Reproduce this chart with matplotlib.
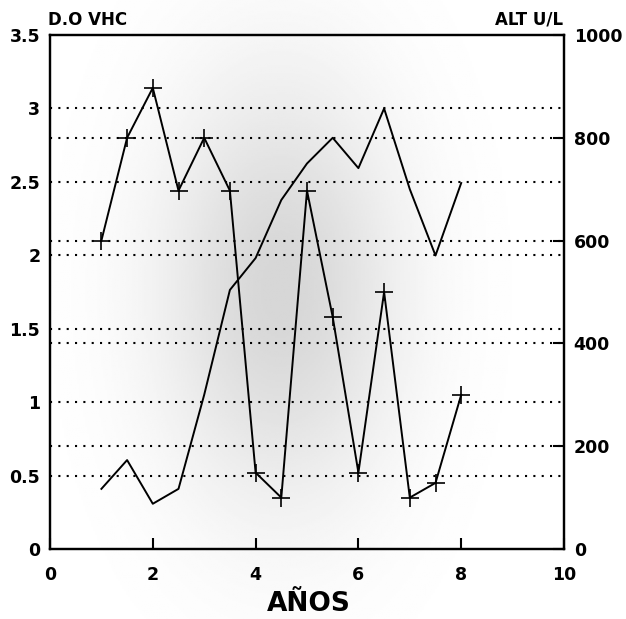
import numpy as np
import matplotlib.pyplot as plt

# D.O VHC (left axis) - line with + markers
anios = [1, 1.5, 2, 2.5, 3, 3.5, 4, 4.5, 5, 5.5, 6, 6.5, 7, 7.5, 8]
do_vhc = [2.1, 2.8, 3.14, 2.44, 2.8, 2.44, 0.52, 0.35, 2.44, 1.58, 0.52, 1.75, 0.35, 0.45, 1.05]

# ALT U/L (right axis) - plain line
alt_ul = [117, 173, 88, 117, 300, 504, 566, 679, 750, 800, 741, 857, 700, 571, 712]

left_ticks = [0, 0.5, 1, 1.5, 2, 2.5, 3, 3.5]
right_ticks = [0, 200, 400, 600, 800, 1000]
x_ticks = [0, 2, 4, 6, 8, 10]

fig = plt.figure(figsize=(6.26, 6.19), dpi=100)

# soft grey shading behind the plot (scanned-look background)
bg = fig.add_axes([0, 0, 1, 1], zorder=0)
gx, gy = np.meshgrid(np.linspace(0, 626, 320), np.linspace(0, 619, 320))
d = ((gx - 280) / 120) ** 2 + ((gy - 290) / 210) ** 2
shade = 1 - 0.16 * np.exp(-d)
bg.imshow(shade, cmap='gray', vmin=0, vmax=1, extent=[0, 626, 619, 0], aspect='auto')
bg.axis('off')

ax = fig.add_axes([50 / 626, 1 - 549 / 619, 514 / 626, 514 / 619], zorder=1)
ax.patch.set_alpha(0)
ax2 = ax.twinx()

ax.set_xlim(0, 10)
ax.set_ylim(0, 3.5)
ax2.set_ylim(0, 1000)

# dotted grid lines at both axes' ticks
for v in left_ticks[1:-1]:
    ax.axhline(v, color='black', linestyle=(0, (1, 3)), linewidth=1.5, zorder=1)
for v in right_ticks[1:-1]:
    ax2.axhline(v, color='black', linestyle=(0, (1, 3)), linewidth=1.5, zorder=1)

ax.plot(anios, do_vhc, color='black', linewidth=1.4, marker='+', markersize=13,
        markeredgewidth=1.2, zorder=3)
ax2.plot(anios, alt_ul, color='black', linewidth=1.4, zorder=3)

font = dict(fontsize=12.5, fontweight='bold')
ax.set_xticks(x_ticks)
ax.set_xticklabels([str(t) for t in x_ticks], **font)
ax.set_yticks(left_ticks)
ax.set_yticklabels(['0', '0.5', '1', '1.5', '2', '2.5', '3', '3.5'], **font)
ax2.set_yticks(right_ticks)
ax2.set_yticklabels([str(t) for t in right_ticks], **font)

ax.tick_params(axis='x', direction='in', length=8, width=1.5, pad=12)
ax.tick_params(axis='y', direction='in', length=0, pad=7)
ax2.tick_params(axis='y', direction='in', length=8, width=1.5, pad=7)

for a in (ax, ax2):
    for s in a.spines.values():
        s.set_linewidth(1.6)

fig.text(48 / 626, 1 - 25 / 619, 'D.O VHC', fontsize=12, fontweight='bold', ha='left', va='baseline')
fig.text(563 / 626, 1 - 25 / 619, 'ALT U/L', fontsize=12, fontweight='bold', ha='right', va='baseline')
fig.text(309 / 626, 1 - 611 / 619, 'AÑOS', fontsize=19, fontweight='bold', ha='center', va='baseline')

fig.savefig('out.png', dpi=100)
